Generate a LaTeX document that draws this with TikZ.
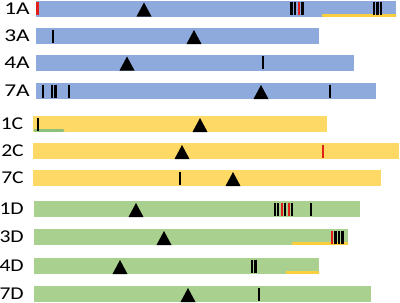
\documentclass[tikz,border=0pt]{standalone}
\usepackage{fontspec}
\setmainfont{Carlito}
\definecolor{barA}{HTML}{8EA9DB}
\definecolor{barC}{HTML}{FFD966}
\definecolor{barD}{HTML}{A9D08E}
\definecolor{markred}{HTML}{E0201B}
\definecolor{lineY}{HTML}{FCCF3E}
\definecolor{lineG}{HTML}{8DC07A}
\usetikzlibrary{positioning}

\begin{document}
\begin{tikzpicture}[x=1pt, y=-1pt,
    every node/.style={font=\fontsize{18}{18}\selectfont},
    rowlabel/.style={anchor=east, inner sep=0pt},
    hit/.style={line width=2.3pt},
    under/.style={line width=3pt, line cap=round}]
  \useasboundingbox (0,0) rectangle (400,303);
  % bars, labels and triangles
  \foreach \nm/\col/\yt/\xa/\xb/\lx/\sx/\tri in{%
    1A/barA/0.5/36/396/30/1.3/144,
    3A/barA/28/36/319/30/1.3/194,
    4A/barA/54.5/36/354/30/1.3/127,
    7A/barA/83/36/376/30/1.3/261,
    1C/barC/116/33/327/23.5/1.2/200,
    2C/barC/143/33/399/24/1.2/182,
    7C/barC/170/33/381/24/1.2/233,
    1D/barD/201/34/360/24/1.2/136,
    3D/barD/229/34/348/24/1.2/164,
    4D/barD/258/34/319/24/1.2/120,
    7D/barD/286/34/371/24/1.2/188
  }{%
    \fill[\col] (\xa, \yt) rectangle (\xb, \yt + 16);
    \node[rowlabel, xscale=\sx] (lab\nm) at (\lx, \yt + 8) {\nm};
    \fill (\tri - 7.5, \yt + 16) -- (\tri, \yt + 2) -- (\tri + 7.5, \yt + 16) -- cycle;
  }
  % underlines
  \draw[under, lineY] (323, 15.5) -- (395, 15.5);
  \draw[under, lineG] (35, 130.5) -- (63, 130.5);
  \draw[under, lineY] (293, 243.5) -- (347, 243.5);
  \draw[under, lineY] (287, 272.5) -- (318, 272.5);
  % black marks
  \foreach \yt/\xm in{0.5/291.5, 0.5/295, 0.5/302.5, 0.5/374, 0.5/377.5, 0.5/381,
    28/53, 54.5/263, 83/43, 83/52, 83/55.5, 83/69, 83/330,
    116/38, 170/180,
    201/275, 201/278, 201/285, 201/292, 201/311,
    229/335.5, 229/339, 229/342.5,
    258/252, 258/255.5, 286/259}{%
    \draw[hit, black] (\xm, \yt + 1.5) -- (\xm, \yt + 14.5);
  }
  % red marks
  \foreach \yt/\xm in{0.5/37.5, 0.5/299, 143/323, 201/282, 201/289, 229/332}{%
    \draw[hit, markred] (\xm, \yt + 1.5) -- (\xm, \yt + 14.5);
  }
\end{tikzpicture}
\end{document}
